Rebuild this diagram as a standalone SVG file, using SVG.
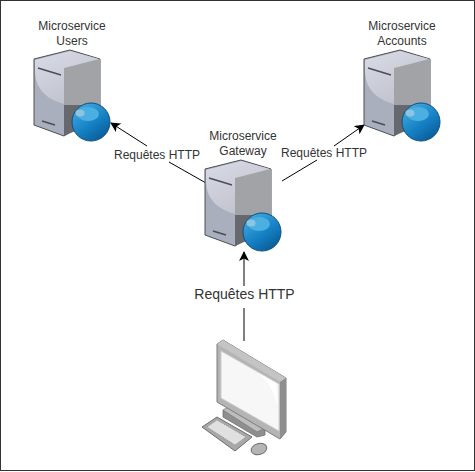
<svg xmlns="http://www.w3.org/2000/svg" width="475" height="472" viewBox="0 0 475 472">
<style>
text{font-family:"Liberation Sans",Arial,sans-serif;fill:#333;text-anchor:middle}
.s{font-size:12px}
.l{font-size:12px}
.c{fill:none;stroke:#000;stroke-width:1}
</style>
<defs>
<marker id="a" viewBox="0 0 10 10" refX="9" refY="5" markerWidth="10" markerHeight="10" orient="auto" markerUnits="userSpaceOnUse"><path d="M0 0L10 5L0 10L2.500 5Z" fill="#000"/></marker>
<linearGradient id="sp" x1="0.2" y1="0.1" x2="0.8" y2="0.95"><stop offset="0" stop-color="#3fa6dc"/><stop offset="0.55" stop-color="#1480c4"/><stop offset="1" stop-color="#0a5c96"/></linearGradient>
<linearGradient id="tp" x1="0" y1="0" x2="0.6" y2="1"><stop offset="0" stop-color="#d9dce6"/><stop offset="1" stop-color="#bfc2cc"/></linearGradient>
<g id="srv">
<path d="M34 59L70 50L100 59L100 112L64 136L34 125Z" fill="#a9afbd" stroke="#4a4e58" stroke-width="1"/>
<path d="M64 68L100 59L100 105L64 105Z" fill="#a2a3a6"/>
<path d="M64 105L100 105L100 120L64 136Z" fill="#66686d"/>
<path d="M35 60L70 51L99 59L64 68L64 104C50 100 36 92 35 72Z" fill="url(#tp)"/>
<path d="M38 68L61 75" stroke="#4a4e58" stroke-width="1.500" fill="none"/>
<path d="M42 121L55 125" stroke="#4a4e58" stroke-width="1.500" fill="none"/>
<circle cx="91" cy="122" r="19" fill="url(#sp)" stroke="#0d4f7e" stroke-width="1"/>
<ellipse cx="88" cy="114" rx="11" ry="7" fill="#4cafe2"/>
<ellipse cx="80" cy="113" rx="4.500" ry="3.500" fill="#8fc4e0"/>
</g>
</defs>
<rect x="0.500" y="0.500" width="474" height="470" fill="#fff" stroke="#333" stroke-width="1"/>
<g id="connectors">
<path class="c" d="M206 183L169 162"/>
<path class="c" d="M147 146L111 123" marker-end="url(#a)"/>
<path class="c" d="M282 181L317 160"/>
<path class="c" d="M334 146L364 125" marker-end="url(#a)"/>
<path class="c" d="M244 286L244 252" marker-end="url(#a)"/>
<path class="c" d="M244 308L244 341"/>
</g>
<g id="users"><use href="#srv"/><text class="s" x="72" y="30">Microservice</text><text class="s" x="72" y="45">Users</text></g>
<g id="accounts"><use href="#srv" x="330"/><text class="s" x="402" y="30">Microservice</text><text class="s" x="402" y="45">Accounts</text></g>
<g id="gateway"><use href="#srv" x="171" y="110"/><text class="s" x="243" y="140">Microservice</text><text class="s" x="243" y="155">Gateway</text></g>
<g id="label-left"><text class="l" x="157" y="159">Requêtes HTTP</text></g>
<g id="label-right"><text class="l" x="324" y="157">Requêtes HTTP</text></g>
<g id="label-bottom"><text x="244.500" y="299" font-size="14">Requêtes HTTP</text></g>
<g id="computer">
<path d="M223 410L223 417L257 437L265 435L265 428Z" fill="#8f8f8f" stroke="#6f6f6f" stroke-width="0.800"/>
<path d="M223 410L232 405L265 428L257 432Z" fill="#bdbdbd" stroke="#7d7d7d" stroke-width="0.800"/>
<path d="M217 344L223 340L286 378L286 432L280 439L217 402Z" fill="#b4b4b4" stroke="#7d7d7d" stroke-width="1"/>
<path d="M217 344L223 340L286 378L280 382Z" fill="#c4c4c4"/>
<path d="M280 382L286 378L286 432L280 439Z" fill="#8e8e8e"/>
<path d="M221 351L279 384L279 431L221 398Z" fill="#f7f7f7" stroke="#d0d0d0" stroke-width="1"/>
<path d="M258 373L276 383L278 406C274 392 268 380 258 373Z" fill="#fff"/>
<path d="M202 427L217 417L252 437L235 451Z" fill="#a8a8a8" stroke="#6f6f6f" stroke-width="1"/>
<path d="M207 427L217 420L246 437L235 445Z" fill="#e0e0e0" stroke="#8a8a8a" stroke-width="0.700" stroke-dasharray="1.500 1"/>
<ellipse cx="259" cy="449" rx="8" ry="5.500" fill="#b5b5b5" stroke="#6f6f6f" stroke-width="1" transform="rotate(-15 259 449)"/>
</g>
</svg>
